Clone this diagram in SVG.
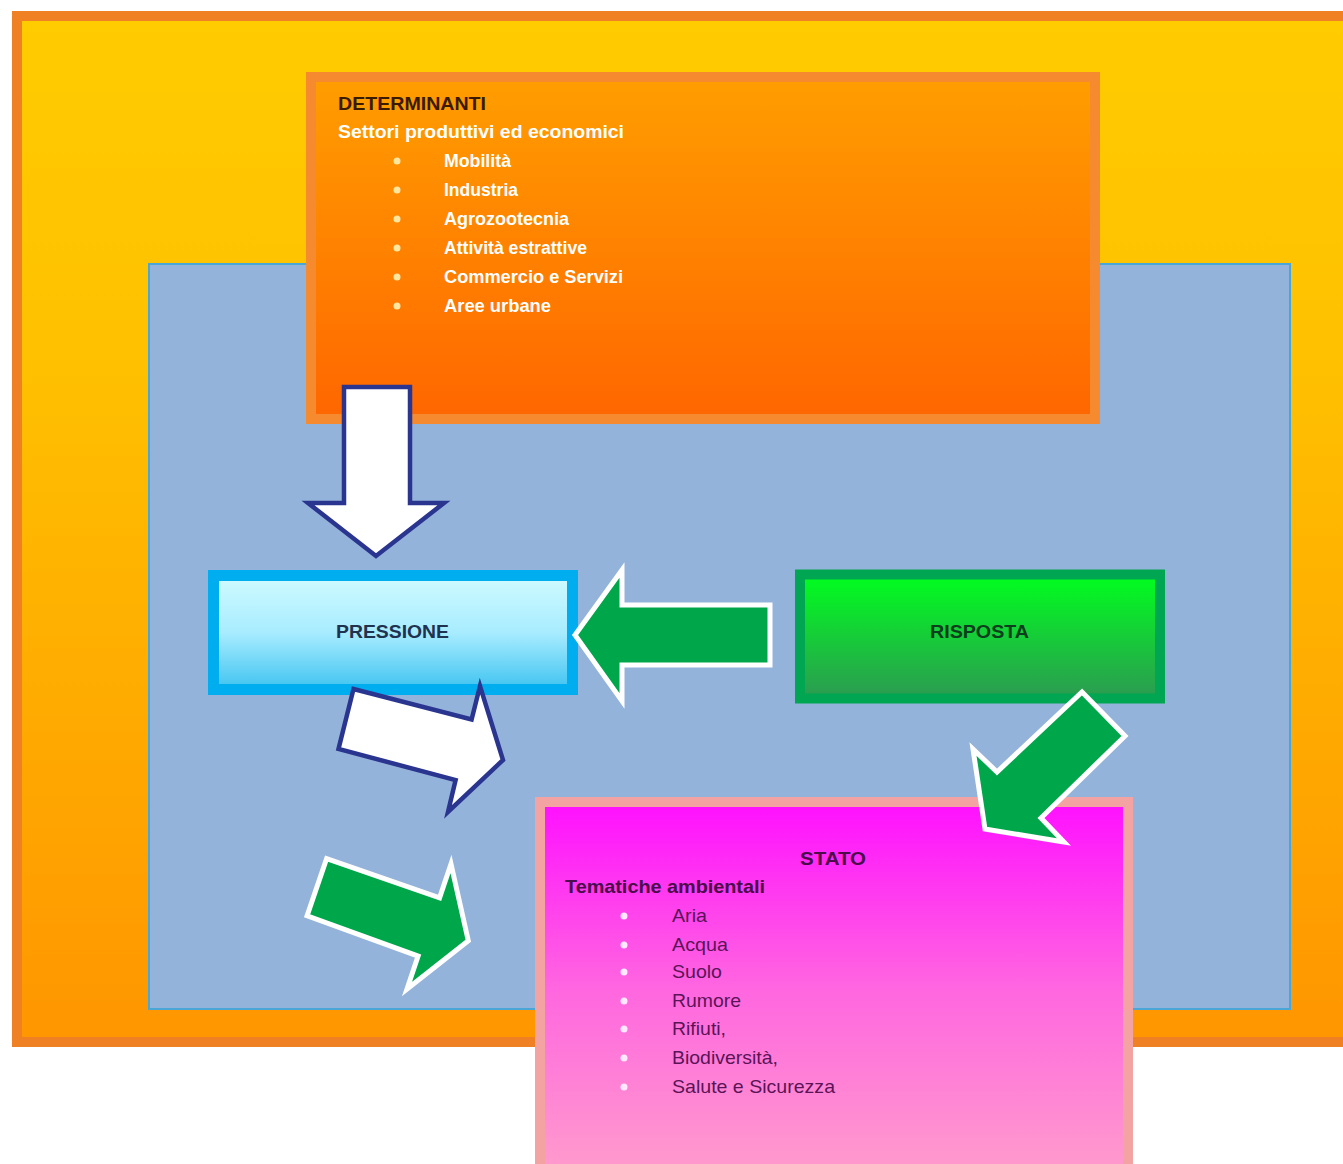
<svg xmlns="http://www.w3.org/2000/svg" width="1343" height="1164" viewBox="0 0 1343 1164">
<defs>
<linearGradient id="gOuter" x1="0" y1="0" x2="0" y2="1"><stop offset="0" stop-color="#ffcc00"/><stop offset="0.35" stop-color="#ffc000"/><stop offset="1" stop-color="#ff9600"/></linearGradient>
<linearGradient id="gDet" x1="0" y1="0" x2="0" y2="1"><stop offset="0" stop-color="#ff9e00"/><stop offset="1" stop-color="#ff6600"/></linearGradient>
<linearGradient id="gPre" x1="0" y1="0" x2="0" y2="1"><stop offset="0" stop-color="#d0fbff"/><stop offset="0.5" stop-color="#a8ecff"/><stop offset="1" stop-color="#3fc3f0"/></linearGradient>
<linearGradient id="gRis" x1="0" y1="0" x2="0" y2="1"><stop offset="0" stop-color="#00ff1e"/><stop offset="1" stop-color="#2c9a52"/></linearGradient>
<linearGradient id="gSta" x1="0" y1="0" x2="0" y2="1"><stop offset="0" stop-color="#ff10ff"/><stop offset="0.5" stop-color="#ff66e0"/><stop offset="1" stop-color="#ff9ccc"/></linearGradient>
</defs>
<style>
text{font-family:"Liberation Sans",Arial,sans-serif;font-size:19px}
.b{font-weight:bold}
.wh{fill:#ffffff}
.pu{fill:#5a1458}
.arrW{fill:#ffffff;stroke:#2a3590;stroke-width:4.5;stroke-linejoin:miter}
.arrG{fill:#00a64a;stroke:#ffffff;stroke-width:5;stroke-linejoin:miter}
</style>
<rect width="1343" height="1164" fill="#ffffff"/>
<g id="frame">
<rect x="17" y="16" width="1340" height="1026" fill="url(#gOuter)" stroke="#f08024" stroke-width="10"/>
<rect x="149" y="264" width="1141" height="745" fill="#94b3da" stroke="#4aa6d6" stroke-width="2"/>
</g>
<g id="determinanti">
<rect x="311" y="77" width="784" height="342" fill="url(#gDet)" stroke="#f58a2e" stroke-width="10"/>
<text x="338" y="110" class="b" fill="#3a1a00" textLength="148" lengthAdjust="spacingAndGlyphs">DETERMINANTI</text>
<text x="338" y="138" class="b wh" textLength="286" lengthAdjust="spacingAndGlyphs">Settori produttivi ed economici</text>
<g fill="#ffe6a0">
<circle cx="397" cy="161" r="3.5"/><circle cx="397" cy="190" r="3.5"/><circle cx="397" cy="219" r="3.5"/><circle cx="397" cy="248" r="3.5"/><circle cx="397" cy="277" r="3.5"/><circle cx="397" cy="306" r="3.5"/>
</g>
<text x="444" y="167" class="b wh" textLength="67" lengthAdjust="spacingAndGlyphs">Mobilità</text>
<text x="444" y="196" class="b wh" textLength="74" lengthAdjust="spacingAndGlyphs">Industria</text>
<text x="444" y="225" class="b wh" textLength="125" lengthAdjust="spacingAndGlyphs">Agrozootecnia</text>
<text x="444" y="254" class="b wh" textLength="143" lengthAdjust="spacingAndGlyphs">Attività estrattive</text>
<text x="444" y="283" class="b wh" textLength="179" lengthAdjust="spacingAndGlyphs">Commercio e Servizi</text>
<text x="444" y="312" class="b wh" textLength="107" lengthAdjust="spacingAndGlyphs">Aree urbane</text>
</g>
<g id="pressione">
<rect x="213.5" y="575.5" width="359" height="114" fill="url(#gPre)" stroke="#00aeef" stroke-width="11"/>
<text x="336" y="638" class="b" fill="#1f3350" textLength="113" lengthAdjust="spacingAndGlyphs">PRESSIONE</text>
</g>
<g id="risposta">
<rect x="800" y="574.5" width="360" height="124" fill="url(#gRis)" stroke="#00a651" stroke-width="10"/>
<text x="930" y="638" class="b" fill="#0b3d1e" textLength="99" lengthAdjust="spacingAndGlyphs">RISPOSTA</text>
</g>
<g id="stato">
<rect x="540" y="802" width="588" height="372" fill="url(#gSta)" stroke="#f4a3a3" stroke-width="10"/>
<text x="800" y="865" class="b" fill="#4a0c4a" textLength="66" lengthAdjust="spacingAndGlyphs">STATO</text>
<text x="565" y="893" class="b" fill="#4a0c4a" textLength="200" lengthAdjust="spacingAndGlyphs">Tematiche ambientali</text>
<g fill="#ffe8ff">
<circle cx="624" cy="916" r="3.5"/><circle cx="624" cy="945" r="3.5"/><circle cx="624" cy="972" r="3.5"/><circle cx="624" cy="1001" r="3.5"/><circle cx="624" cy="1029" r="3.5"/><circle cx="624" cy="1058" r="3.5"/><circle cx="624" cy="1087" r="3.5"/>
</g>
<text x="672" y="922" class="pu" textLength="35" lengthAdjust="spacingAndGlyphs">Aria</text>
<text x="672" y="951" class="pu" textLength="56" lengthAdjust="spacingAndGlyphs">Acqua</text>
<text x="672" y="978" class="pu" textLength="50" lengthAdjust="spacingAndGlyphs">Suolo</text>
<text x="672" y="1007" class="pu" textLength="69" lengthAdjust="spacingAndGlyphs">Rumore</text>
<text x="672" y="1035" class="pu" textLength="54" lengthAdjust="spacingAndGlyphs">Rifiuti,</text>
<text x="672" y="1064" class="pu" textLength="106" lengthAdjust="spacingAndGlyphs">Biodiversità,</text>
<text x="672" y="1093" class="pu" textLength="163" lengthAdjust="spacingAndGlyphs">Salute e Sicurezza</text>
</g>
<g id="connectors">
<polygon class="arrW" points="344,387 410,387 410,503 444,503 376,556 308,503 344,503"/>
<polygon class="arrW" points="353.5,689 471.6,719.5 480,686 503,760 448,812 455.6,780 338.5,749"/>
<polygon class="arrG" points="770,605 770,665 622,665 622,701 575,635 622,570 622,605"/>
<polygon class="arrG" points="1082,692 1125,736 1041,818 1064,842 985,829 973,749 997,772"/>
<polygon class="arrG" points="326.6,858.6 439.6,897.9 451,864 468.3,940.8 407,989 418.1,956.1 307.1,915.8"/>
</g>
</svg>
